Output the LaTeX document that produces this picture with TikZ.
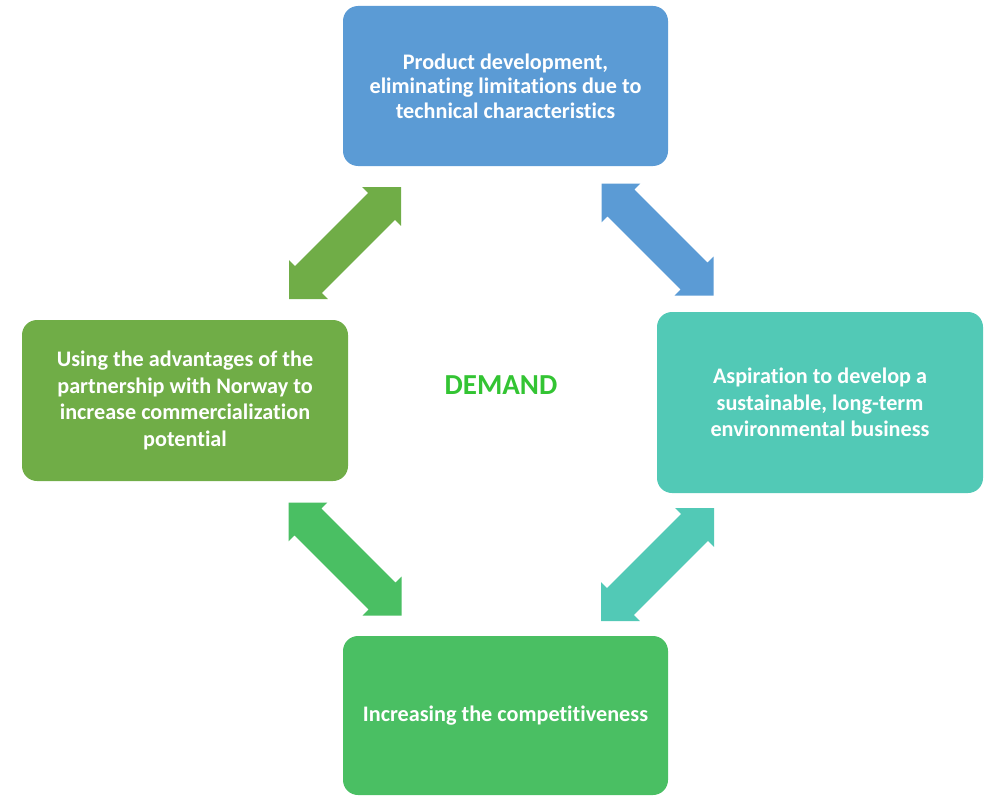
\documentclass[tikz,border=0pt]{standalone}
\usepackage{fontspec}
\setmainfont{Carlito}[Ligatures=NoCommon]
\usetikzlibrary{calc}
\definecolor{cblue}{HTML}{5B9BD5}
\definecolor{cteal}{HTML}{52C9B6}
\definecolor{cleaf}{HTML}{70AD47}
\definecolor{cgreen}{HTML}{4ABF63}
\definecolor{cdemand}{HTML}{33C433}
\newcommand\hl{27.5pt}
\newcommand\hw{27.5pt}
\newcommand\sw{19pt}
\newcommand\blockarr[3]{%
  \fill[#1] (#2)
    -- ($(#2)!\hl!(#3)!\hw!90:(#3)$)
    -- ($(#2)!\hl!(#3)!\sw!90:(#3)$)
    -- ($(#3)!\hl!(#2)!\sw!-90:(#2)$)
    -- ($(#3)!\hl!(#2)!\hw!-90:(#2)$)
    -- (#3)
    -- ($(#3)!\hl!(#2)!\hw!90:(#2)$)
    -- ($(#3)!\hl!(#2)!\sw!90:(#2)$)
    -- ($(#2)!\hl!(#3)!\sw!-90:(#3)$)
    -- ($(#2)!\hl!(#3)!\hw!-90:(#3)$)
    -- cycle;}
\tikzset{
  box/.style={rectangle, rounded corners=15pt, inner sep=0pt, text=white,
    font=\bfseries\fontsize{22.2}{26.5}\selectfont, align=center},
}
\begin{document}
\begin{tikzpicture}[x=1pt,y=-1pt]
\useasboundingbox (0,0) rectangle (985,797);
\node[box, fill=cblue, minimum width=325pt, minimum height=160pt,
  font=\bfseries\fontsize{22.2}{24.5}\selectfont] (top) at (505.5,86)
  {Product development,\\eliminating limitations due to\\technical characteristics};
\node[box, fill=cteal, minimum width=326pt, minimum height=181pt] (right) at (820,402.5)
  {Aspiration to develop a\\sustainable, long-term\\environmental business};
\node[box, fill=cleaf, minimum width=326pt, minimum height=161pt] (left) at (185,400.5)
  {Using the advantages of the\\partnership with Norway to\\increase commercialization\\potential};
\node[box, fill=cgreen, minimum width=325pt, minimum height=159pt] (bottom) at (505.5,715.5)
  {Increasing the competitiveness};
\node[text=cdemand, font=\bfseries\fontsize{29}{32}\selectfont] (demand) at (501,385) {DEMAND};
\coordinate (a1) at (401,187);
\coordinate (b1) at (289,299);
\coordinate (a2) at (601.5,183.5);
\coordinate (b2) at (713.5,295.5);
\coordinate (a3) at (288.5,502.5);
\coordinate (b3) at (401.5,615.5);
\coordinate (a4) at (714,508);
\coordinate (b4) at (601,621);
\blockarr{cleaf}{a1}{b1}
\blockarr{cblue}{a2}{b2}
\blockarr{cgreen}{a3}{b3}
\blockarr{cteal}{a4}{b4}
\end{tikzpicture}
\end{document}
